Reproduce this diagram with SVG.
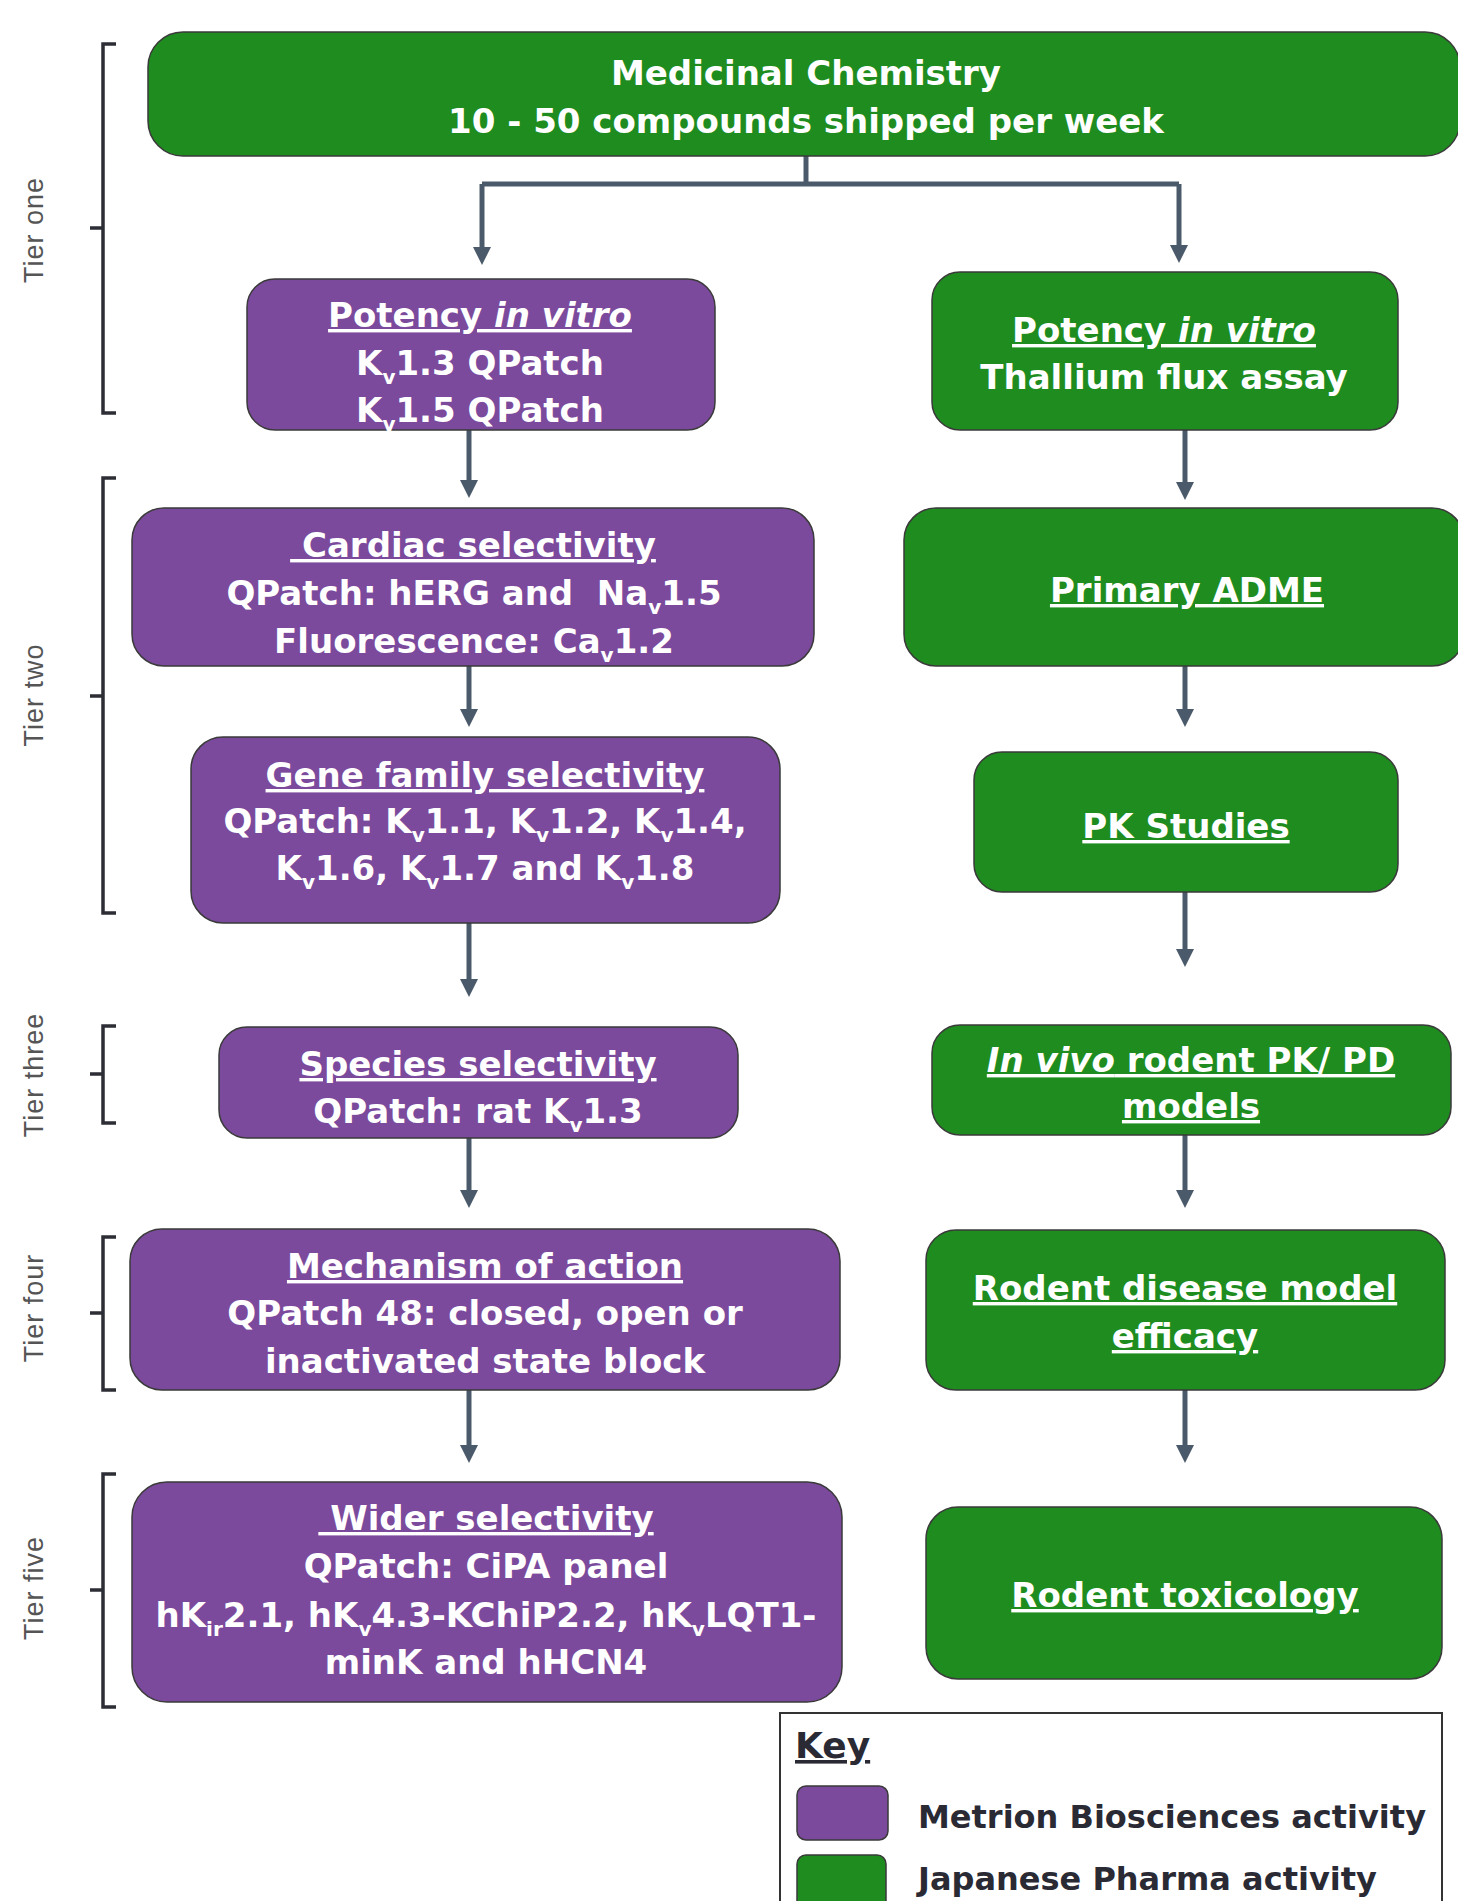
<svg xmlns="http://www.w3.org/2000/svg" width="1458" height="1901" viewBox="0 0 1458 1901">
<style>
.n text{font-family:"DejaVu Sans","Liberation Sans",sans-serif;font-weight:bold;font-size:34px;fill:#fff;text-anchor:middle}
.u{text-decoration:underline}
.pre{white-space:pre}
.sub{font-size:20px}
.i{font-style:italic}
.p rect{fill:#7B4A9C;stroke:#3a3a3a;stroke-width:1.5}
.g rect{fill:#1F8C1F;stroke:#3a3a3a;stroke-width:1.5}
.tier{font-family:"Liberation Sans",sans-serif;font-size:27px;fill:#555;letter-spacing:1px;text-anchor:middle}
.br{fill:none;stroke:#2d2d36;stroke-width:3.5}
.c{fill:none;stroke:#4b5a6b;stroke-width:5}
.k{font-family:"DejaVu Sans","Liberation Sans",sans-serif;font-weight:bold;fill:#2a2a35}
</style>
<defs>
<marker id="ah" markerUnits="userSpaceOnUse" markerWidth="18" markerHeight="18" refX="0" refY="9" orient="auto">
<path d="M0,0 L18,9 L0,18 z" fill="#4b5a6b"/>
</marker>
</defs>
<rect width="1458" height="1901" fill="#fff"/>

<g id="tiers">
<path class="br" d="M116,44 H103 V413 H116 M103,228 H90"/>
<text class="tier" transform="translate(43,230) rotate(-90)">Tier one</text>
<path class="br" d="M116,478 H103 V913 H116 M103,696 H90"/>
<text class="tier" transform="translate(43,695) rotate(-90)">Tier two</text>
<path class="br" d="M116,1026 H103 V1123 H116 M103,1074 H90"/>
<text class="tier" transform="translate(43,1075) rotate(-90)">Tier three</text>
<path class="br" d="M116,1237 H103 V1390 H116 M103,1313 H90"/>
<text class="tier" transform="translate(43,1308) rotate(-90)">Tier four</text>
<path class="br" d="M116,1474 H103 V1707 H116 M103,1590 H90"/>
<text class="tier" transform="translate(43,1588) rotate(-90)">Tier five</text>
</g>

<g id="connectors">
<path class="c" d="M806,156 V184"/>
<path class="c" d="M482,184 H1179"/>
<path class="c" d="M482,184 V247" marker-end="url(#ah)"/>
<path class="c" d="M1179,184 V245" marker-end="url(#ah)"/>
<path class="c" d="M469,430 V480" marker-end="url(#ah)"/>
<path class="c" d="M469,666 V709" marker-end="url(#ah)"/>
<path class="c" d="M469,923 V979" marker-end="url(#ah)"/>
<path class="c" d="M469,1138 V1190" marker-end="url(#ah)"/>
<path class="c" d="M469,1390 V1445" marker-end="url(#ah)"/>
<path class="c" d="M1185,430 V482" marker-end="url(#ah)"/>
<path class="c" d="M1185,666 V709" marker-end="url(#ah)"/>
<path class="c" d="M1185,892 V949" marker-end="url(#ah)"/>
<path class="c" d="M1185,1135 V1190" marker-end="url(#ah)"/>
<path class="c" d="M1185,1390 V1445" marker-end="url(#ah)"/>
</g>

<g id="medchem" class="n g">
<rect x="148" y="32" width="1312" height="124" rx="35"/>
<text x="806" y="85">Medicinal Chemistry</text>
<text x="806" y="133">10 - 50 compounds shipped per week</text>
</g>

<g id="potency-metrion" class="n p">
<rect x="247" y="279" width="468" height="151" rx="28"/>
<text x="480" y="327" class="u">Potency <tspan class="i">in vitro</tspan></text>
<text x="480" y="375">K<tspan class="sub" dy="9">v</tspan><tspan dy="-9">1.3 QPatch</tspan></text>
<text x="480" y="422">K<tspan class="sub" dy="9">v</tspan><tspan dy="-9">1.5 QPatch</tspan></text>
</g>

<g id="potency-pharma" class="n g">
<rect x="932" y="272" width="466" height="158" rx="28"/>
<text x="1164" y="342" class="u">Potency <tspan class="i">in vitro</tspan></text>
<text x="1164" y="389">Thallium flux assay</text>
</g>

<g id="cardiac" class="n p">
<rect x="132" y="508" width="682" height="158" rx="32"/>
<text x="473" y="557" class="u pre"> Cardiac selectivity</text>
<text x="474" y="605" class="pre">QPatch: hERG and  Na<tspan class="sub" dy="9">v</tspan><tspan dy="-9">1.5</tspan></text>
<text x="474" y="653">Fluorescence: Ca<tspan class="sub" dy="9">v</tspan><tspan dy="-9">1.2</tspan></text>
</g>

<g id="adme" class="n g">
<rect x="904" y="508" width="560" height="158" rx="32"/>
<text x="1187" y="602" class="u">Primary ADME</text>
</g>

<g id="genefamily" class="n p">
<rect x="191" y="737" width="589" height="186" rx="32"/>
<text x="485" y="787" class="u">Gene family selectivity</text>
<text x="485" y="833">QPatch: K<tspan class="sub" dy="9">v</tspan><tspan dy="-9">1.1, K</tspan><tspan class="sub" dy="9">v</tspan><tspan dy="-9">1.2, K</tspan><tspan class="sub" dy="9">v</tspan><tspan dy="-9">1.4,</tspan></text>
<text x="485" y="880">K<tspan class="sub" dy="9">v</tspan><tspan dy="-9">1.6, K</tspan><tspan class="sub" dy="9">v</tspan><tspan dy="-9">1.7 and K</tspan><tspan class="sub" dy="9">v</tspan><tspan dy="-9">1.8</tspan></text>
</g>

<g id="pk" class="n g">
<rect x="974" y="752" width="424" height="140" rx="28"/>
<text x="1186" y="838" class="u">PK Studies</text>
</g>

<g id="species" class="n p">
<rect x="219" y="1027" width="519" height="111" rx="28"/>
<text x="478" y="1076" class="u">Species selectivity</text>
<text x="478" y="1123">QPatch: rat K<tspan class="sub" dy="9">v</tspan><tspan dy="-9">1.3</tspan></text>
</g>

<g id="invivo" class="n g">
<rect x="932" y="1025" width="519" height="110" rx="28"/>
<text x="1191" y="1072" class="u"><tspan class="i">In vivo</tspan> rodent PK/ PD</text>
<text x="1191" y="1118" class="u">models</text>
</g>

<g id="mechanism" class="n p">
<rect x="130" y="1229" width="710" height="161" rx="32"/>
<text x="485" y="1278" class="u">Mechanism of action</text>
<text x="485" y="1325">QPatch 48: closed, open or</text>
<text x="485" y="1373">inactivated state block</text>
</g>

<g id="disease" class="n g">
<rect x="926" y="1230" width="519" height="160" rx="30"/>
<text x="1185" y="1300" class="u">Rodent disease model</text>
<text x="1185" y="1348" class="u">efficacy</text>
</g>

<g id="wider" class="n p">
<rect x="132" y="1482" width="710" height="220" rx="35"/>
<text x="486" y="1530" class="u pre"> Wider selectivity</text>
<text x="486" y="1578">QPatch: CiPA panel</text>
<text x="486" y="1627">hK<tspan class="sub" dy="9">ir</tspan><tspan dy="-9">2.1, hK</tspan><tspan class="sub" dy="9">v</tspan><tspan dy="-9">4.3-KChiP2.2, hK</tspan><tspan class="sub" dy="9">v</tspan><tspan dy="-9">LQT1-</tspan></text>
<text x="486" y="1674">minK and hHCN4</text>
</g>

<g id="toxicology" class="n g">
<rect x="926" y="1507" width="516" height="172" rx="32"/>
<text x="1185" y="1607" class="u">Rodent toxicology</text>
</g>

<g id="key">
<rect x="780" y="1713" width="662" height="200" fill="none" stroke="#333" stroke-width="2"/>
<text x="795" y="1758" class="k u" font-size="36">Key</text>
<rect x="797" y="1786" width="91" height="54" rx="9" fill="#7B4A9C" stroke="#3a3a3a" stroke-width="1.5"/>
<text x="918" y="1828" class="k" font-size="32">Metrion Biosciences activity</text>
<rect x="797" y="1855" width="89" height="60" rx="9" fill="#1F8C1F" stroke="#3a3a3a" stroke-width="1.5"/>
<text x="918" y="1890" class="k" font-size="32">Japanese Pharma activity</text>
</g>
</svg>
